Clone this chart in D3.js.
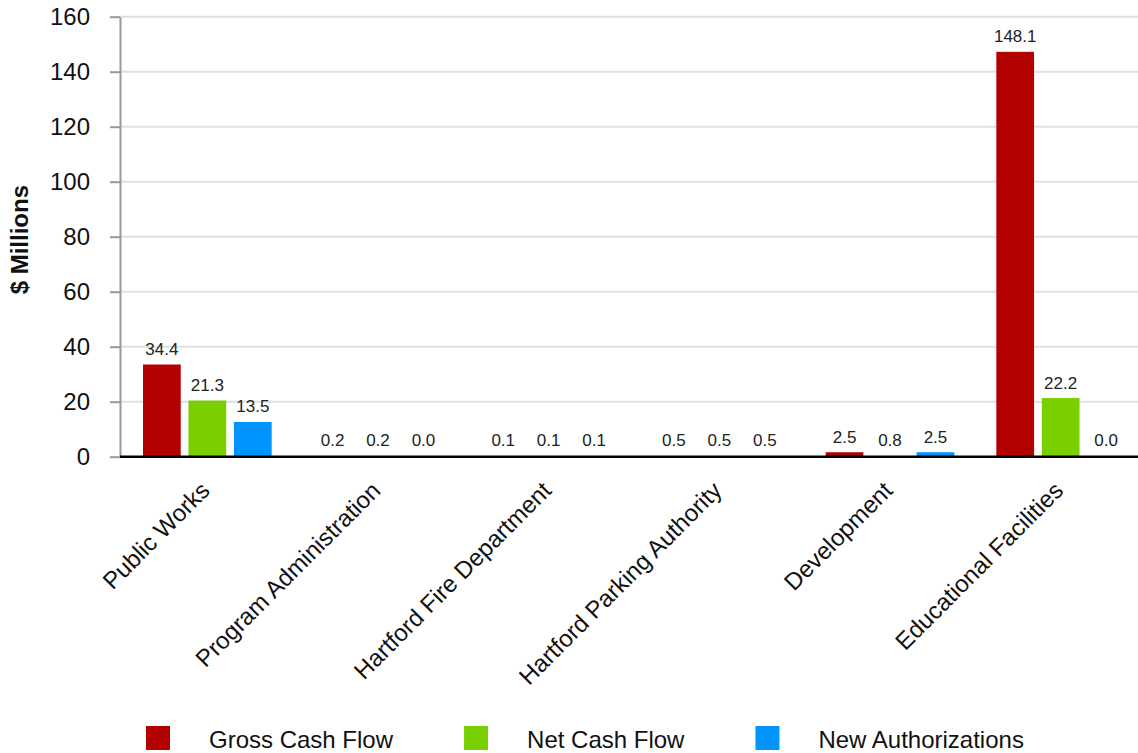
<!DOCTYPE html>
<html>
<head>
<meta charset="utf-8">
<script src="https://cdn.jsdelivr.net/npm/d3@7"></script>
<style>
  body { margin: 0; background: #fff; }
  svg { display: block; font-family: "Liberation Sans", Arial, sans-serif; }
</style>
</head>
<body>
<div id="chart"></div>
<script>
const categories = [
  "Public Works",
  "Program Administration",
  "Hartford Fire Department",
  "Hartford Parking Authority",
  "Development",
  "Educational Facilities"
];
const seriesNames = ["Gross Cash Flow", "Net Cash Flow", "New Authorizations"];
const grossCashFlow = [34.4, 0.2, 0.1, 0.5, 2.5, 148.1];
const netCashFlow = [21.3, 0.2, 0.1, 0.5, 0.8, 22.2];
const newAuthorizations = [13.5, 0.0, 0.1, 0.5, 2.5, 0.0];
const seriesColors = ["#b30000", "#7acf00", "#0094ff"];
const yTicks = [0, 20, 40, 60, 80, 100, 120, 140, 160];

const width = 1138;
const height = 753;
const plotLeft = 120;
const plotTop = 16.7;
const plotBottom = 456.7;

const seriesValues = [grossCashFlow, netCashFlow, newAuthorizations];
const rows = categories.map((name, i) => ({
  name,
  values: seriesNames.map((s, k) => ({ series: s, color: seriesColors[k], value: seriesValues[k][i] }))
}));

const svg = d3.select("#chart").append("svg")
  .attr("width", width)
  .attr("height", height);

const x0 = d3.scaleBand()
  .domain(categories)
  .range([122, 1146]);

const x1 = d3.scaleBand()
  .domain(seriesNames)
  .range([21, x0.bandwidth() - 21])
  .paddingInner(0.17);

const y = d3.scaleLinear()
  .domain([0, 160])
  .range([plotBottom, plotTop]);

// gridlines
svg.append("g")
  .selectAll("line")
  .data(yTicks.filter(t => t > 0))
  .join("line")
  .attr("x1", plotLeft)
  .attr("x2", width)
  .attr("y1", d => y(d))
  .attr("y2", d => y(d))
  .attr("stroke", "#e0e0e0")
  .attr("stroke-width", 2);

// y axis
const yAxis = svg.append("g")
  .attr("transform", `translate(${plotLeft},0)`)
  .call(d3.axisLeft(y).tickValues(yTicks).tickSize(10).tickPadding(20).tickSizeOuter(0));
yAxis.select(".domain").attr("stroke", "#999").attr("stroke-width", 2);
yAxis.selectAll(".tick line").attr("stroke", "#999").attr("stroke-width", 2);
yAxis.selectAll(".tick text")
  .attr("fill", "#111")
  .style("font-size", "24px")
  .style("font-family", "'Liberation Sans', Arial, sans-serif");

svg.append("text")
  .attr("transform", `translate(28,${(plotTop + plotBottom) / 2 + 3}) rotate(-90)`)
  .attr("text-anchor", "middle")
  .attr("font-size", "24px")
  .attr("font-weight", "700")
  .attr("fill", "#111")
  .text("$ Millions");

// bars (the thick baseline hides the bottom couple of pixels)
const baseOffset = 2.4;
const groups = svg.append("g")
  .selectAll("g")
  .data(rows)
  .join("g")
  .attr("transform", d => `translate(${x0(d.name)},0)`);

groups.selectAll("rect")
  .data(d => d.values)
  .join("rect")
  .attr("x", d => x1(d.series))
  .attr("width", x1.bandwidth())
  .attr("y", d => y(d.value) + baseOffset)
  .attr("height", d => Math.max(0, y(0) - y(d.value) - baseOffset))
  .attr("fill", d => d.color);

groups.selectAll("text")
  .data(d => d.values)
  .join("text")
  .attr("x", d => x1(d.series) + x1.bandwidth() / 2)
  .attr("y", d => Math.min(y(d.value) + baseOffset, y(0) - 1) - 9.5)
  .attr("text-anchor", "middle")
  .attr("font-size", "17px")
  .attr("fill", "#222")
  .text(d => d.value.toFixed(1));

// baseline
svg.append("line")
  .attr("x1", plotLeft)
  .attr("x2", width)
  .attr("y1", y(0))
  .attr("y2", y(0))
  .attr("stroke", "#000")
  .attr("stroke-width", 2.5);

// category labels
svg.append("g")
  .selectAll("text")
  .data(categories)
  .join("text")
  .attr("transform", d => `translate(${x0(d) + x0.bandwidth() / 2 + 4},492) rotate(-45)`)
  .attr("text-anchor", "end")
  .attr("font-size", "24px")
  .attr("fill", "#111")
  .text(d => d);

// legend
const legend = svg.append("g").attr("transform", "translate(146,726)");
let cursor = 0;
seriesNames.forEach((name, k) => {
  const item = legend.append("g").attr("transform", `translate(${cursor},0)`);
  item.append("rect")
    .attr("width", 24)
    .attr("height", 24)
    .attr("fill", seriesColors[k]);
  const label = item.append("text")
    .attr("x", 63)
    .attr("y", 22)
    .attr("font-size", "24px")
    .attr("fill", "#111")
    .text(name);
  cursor += 63 + label.node().getComputedTextLength() + 71;
});
</script>
</body>
</html>
